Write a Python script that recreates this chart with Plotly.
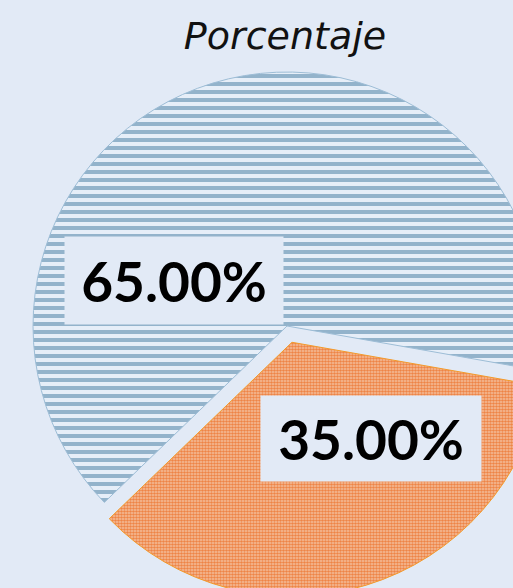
import plotly.graph_objects as go

# Data
labels = ["Serie A", "Serie B"]
values = [65.0, 35.0]
label_texts = ["65.00%", "35.00%"]
title_text = "Porcentaje"

BG = "#E2EAF6"
W, H = 600, 640

fig = go.Figure()
fig.add_trace(go.Pie(
    labels=labels,
    values=values,
    sort=False,
    direction="clockwise",
    rotation=-134,
    pull=[0, 0.067],
    textinfo="none",
    hoverinfo="label+percent",
    showlegend=False,
    domain=dict(x=[16 / W, 558 / W], y=[1 - 597 / H, 1 - 55 / H]),
    marker=dict(
        colors=["#93B3CB", "#EF8A4C"],
        line=dict(color=["#9DBDD6", "#F39A2B"], width=1),
        pattern=dict(
            shape=["-", "."],
            fgcolor=["#93B3CB", "#EE8446"],
            bgcolor=["#E6EEF8", "#F5C3A2"],
            size=[8, 3],
            solidity=[0.5, 0.6],
            fillmode="replace",
        ),
    ),
))

ann_pos = [(174 / W, 1 - 280 / H, 216, 85), (371 / W, 1 - 438 / H, 218, 83)]
for txt, (ax, ay, bw, bh) in zip(label_texts, ann_pos):
    fig.add_annotation(
        x=ax, y=ay, xref="paper", yref="paper",
        text=txt, showarrow=False,
        width=bw, height=bh,
        bgcolor=BG,
        font=dict(family="Lato", size=55, color="#000000", weight="bold"),
        xanchor="center", yanchor="middle",
    )

fig.update_layout(
    width=W, height=H,
    margin=dict(l=0, r=0, t=0, b=0),
    paper_bgcolor=BG,
    plot_bgcolor=BG,
    title=dict(
        text=title_text,
        x=285 / W, xanchor="center",
        y=1 - 36 / H, yanchor="middle",
        font=dict(family="DejaVu Sans", size=38, color="#111111", style="italic"),
    ),
)

fig.write_html(
    "out.html",
    post_script="document.body.style.margin='0';document.body.style.overflow='hidden';document.documentElement.style.overflow='hidden';",
)
